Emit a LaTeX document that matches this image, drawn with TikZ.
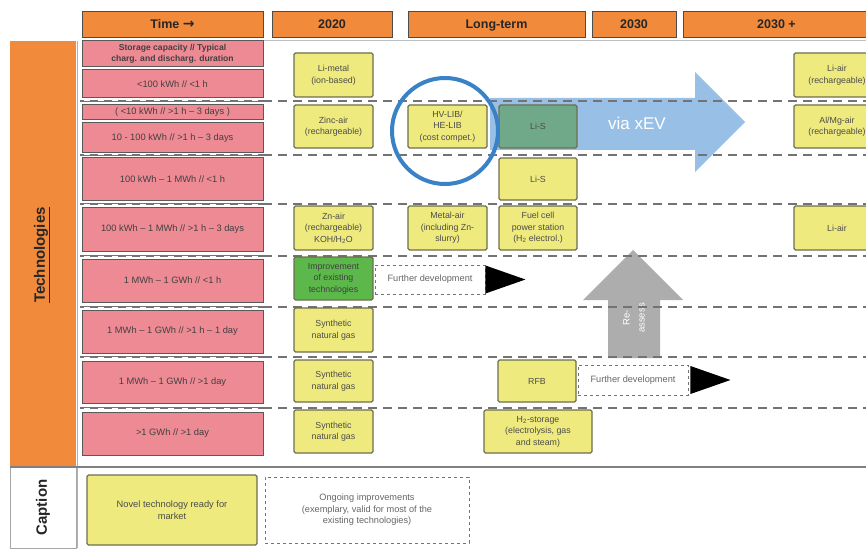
\documentclass[tikz,border=0pt]{standalone}
\usepackage{fontspec}
\setmainfont{Liberation Sans}
\newfontfamily\arrowfont{DejaVu Sans}
\definecolor{orangehead}{HTML}{F28A3C}
\definecolor{pinkrow}{HTML}{EE8A94}
\definecolor{yellowtech}{HTML}{EEEA7E}
\definecolor{greentech}{HTML}{5CB84A}
\definecolor{tealtech}{HTML}{6FA98A}
\definecolor{boxedge}{HTML}{6E6E50}
\definecolor{xevblue}{HTML}{98C0E6}
\definecolor{ringblue}{HTML}{3A82C8}

\begin{document}
\begin{tikzpicture}[x=1pt,y=1pt]
    \tikzstyle{every node}+=[inner sep=0pt]
    \tikzstyle{headbox}=[draw=black!70, fill=orangehead, line width=1pt, minimum height=26pt, text height=9.5pt, text depth=2.5pt, font=\fontsize{12.5}{14}\selectfont\bfseries, text=black!85]
    \tikzstyle{rowbox}=[draw=black!65, fill=pinkrow, line width=1pt, minimum width=181pt, align=center, font=\fontsize{9.3}{11}\selectfont, text=black!75]
    \tikzstyle{techbox}=[draw=boxedge, fill=yellowtech, line width=1.2pt, rounded corners=1.5pt, align=center, font=\fontsize{8.8}{11.5}\selectfont, text=black!70]
    \tikzstyle{devbox}=[draw=black!55, dashed, fill=white, line width=0.9pt, align=center, font=\fontsize{9.2}{11.5}\selectfont, text=black!60]
    \tikzstyle{sepline}=[draw=black!55, line width=1.5pt, dash pattern=on 9pt off 6pt]
    \clip (0,0) rectangle (866,-548);
    \fill [white] (0,0) rectangle (866,-548);
    % left bar and caption bar
    \node [fill=orangehead, minimum width=66pt, minimum height=426pt] (techbar) at (43,-254) {};
    \node [rotate=90, font=\fontsize{15}{16}\selectfont\bfseries, text=black!85] (techlabel) at (42,-255) {\underline{Technologies}};
    \node [draw=black!35, line width=1pt, minimum width=66pt, minimum height=81pt] (capbar) at (43,-507.5) {};
    \node [rotate=90, font=\fontsize{15}{16}\selectfont\bfseries, text=black!85] (caplabel) at (capbar) {Caption};
    \draw [black!30, line width=1pt] (77,-41) -- (77,-548);
    \draw [black!25, line width=1pt] (263,-41) -- (866,-41);
    \draw [black!50, line width=1.5pt] (10,-467) -- (866,-467);
    % big arrows
    \fill [xevblue] (490,-98) -- (695,-98) -- (695,-72) -- (745,-122) -- (695,-172) -- (695,-150) -- (490,-150) -- cycle;
    \node [text=white, font=\fontsize{17}{18}\selectfont] (xev) at (637,-123) {via xEV};
    \fill [black!32] (608,-358) -- (608,-300) -- (583,-300) -- (633,-250) -- (683,-300) -- (660,-300) -- (660,-358) -- cycle;
    \node [rotate=90, align=center, text=white, font=\fontsize{9.5}{15}\selectfont] (reassess) at (634,-318) {Re-\\assess};
    % row separators
    \foreach \y in {101,155,204,256,307,357,408} {
        \draw [sepline] (263,-\y) -- (866,-\y);
        \draw [black!55, line width=2.5pt] (80,-\y) -- (265,-\y);
        \draw [white, line width=1pt, dash pattern=on 6pt off 8pt] (84,-\y) -- (263,-\y);
    }
    % header
    \node [headbox, minimum width=181pt] (hdtime) at (172.5,-25) {Time {\arrowfont\bfseries\fontsize{14}{14}\selectfont →}};
    \node [headbox, minimum width=120pt] (hd2020) at (332,-25) {2020};
    \node [headbox, minimum width=177pt] (hdlong) at (496.5,-25) {Long-term};
    \node [headbox, minimum width=84pt] (hd2030) at (634,-25) {2030};
    \node [headbox, minimum width=187pt] (hd2030p) at (776.5,-25) {2030 +};
    % storage rows
    \node [rowbox, minimum height=26pt, font=\fontsize{8.6}{10.5}\selectfont\bfseries] (rowhead) at (172.5,-54) {Storage capacity // Typical\\charg. and discharg. duration};
    \node [rowbox, minimum height=28pt] (row1) at (172.5,-84) {<100 kWh // <1 h};
    \node [rowbox, minimum height=15pt] (row2a) at (172.5,-112.5) {( <10 kWh // >1 h – 3 days )};
    \node [rowbox, minimum height=30pt] (row2b) at (172.5,-138) {10 - 100 kWh // >1 h – 3 days};
    \node [rowbox, minimum height=42pt] (row3) at (172.5,-179) {100 kWh – 1 MWh // <1 h};
    \node [rowbox, minimum height=44pt] (row4) at (172.5,-229) {100 kWh – 1 MWh // >1 h – 3 days};
    \node [rowbox, minimum height=43pt] (row5) at (172.5,-280.5) {1 MWh – 1 GWh // <1 h};
    \node [rowbox, minimum height=43pt] (row6) at (172.5,-331.5) {1 MWh – 1 GWh // >1 h – 1 day};
    \node [rowbox, minimum height=42pt] (row7) at (172.5,-382) {1 MWh – 1 GWh // >1 day};
    \node [rowbox, minimum height=43pt] (row8) at (172.5,-433.5) {>1 GWh // >1 day};
    % 2020
    \node [techbox, minimum width=79pt, minimum height=44pt] (limetal) at (333.5,-75) {Li-metal\\(ion-based)};
    \node [techbox, minimum width=79pt, minimum height=43pt] (zincair) at (333.5,-126.5) {Zinc-air\\(rechargeable)};
    \node [techbox, minimum width=79pt, minimum height=44pt] (znair) at (333.5,-228) {Zn-air\\(rechargeable)\\KOH/H\textsubscript{2}O};
    \node [techbox, fill=greentech, text=black!75, minimum width=79pt, minimum height=43pt] (improve) at (333.5,-278.5) {Improvement\\of existing\\technologies};
    \node [techbox, minimum width=79pt, minimum height=44pt] (sng1) at (333.5,-330) {Synthetic\\natural gas};
    \node [techbox, minimum width=79pt, minimum height=42pt] (sng2) at (333.5,-381) {Synthetic\\natural gas};
    \node [techbox, minimum width=79pt, minimum height=43pt] (sng3) at (333.5,-431.5) {Synthetic\\natural gas};
    % long-term
    \node [techbox, minimum width=79pt, minimum height=43pt] (hvlib) at (447.5,-126.5) {HV-LIB/\\HE-LIB\\(cost compet.)};
    \node [techbox, minimum width=79pt, minimum height=44pt] (metalair) at (447.5,-228) {Metal-air\\(including Zn-\\slurry)};
    \node [techbox, fill=tealtech, minimum width=78pt, minimum height=43pt] (lisa) at (538,-126.5) {Li-S};
    \node [techbox, minimum width=78pt, minimum height=42pt] (lisb) at (538,-179) {Li-S};
    \node [techbox, minimum width=78pt, minimum height=44pt] (fuelcell) at (538,-228) {Fuel cell\\power station\\(H\textsubscript{2} electrol.)};
    \node [techbox, minimum width=78pt, minimum height=42pt] (rfb) at (537,-381) {RFB};
    \node [techbox, minimum width=108pt, minimum height=43pt] (htwo) at (538,-431.5) {H\textsubscript{2}-storage\\(electrolysis, gas\\and steam)};
    % 2030 +
    \node [techbox, minimum width=86pt, minimum height=44pt] (liair1) at (837,-75) {Li-air\\(rechargeable)};
    \node [techbox, minimum width=86pt, minimum height=43pt] (almgair) at (837,-126.5) {Al/Mg-air\\(rechargeable)};
    \node [techbox, minimum width=86pt, minimum height=44pt] (liair2) at (837,-228) {Li-air};
    % further development
    \node [devbox, minimum width=110pt, minimum height=29pt] (dev1) at (430,-279.5) {Further development};
    \fill [black] (dev1.east) ++(0,14) -- ++(40,-14) -- ++(-40,-14) -- cycle;
    \node [devbox, minimum width=110pt, minimum height=30pt] (dev2) at (633,-380) {Further development};
    \fill [black] (dev2.east) ++(2,14) -- ++(40,-14) -- ++(-40,-14) -- cycle;
    % highlight ring
    \draw [ringblue, line width=4pt] (445,-131) circle (53);
    % caption
    \node [techbox, minimum width=170pt, minimum height=70pt, font=\fontsize{9.3}{11.5}\selectfont] (capnovel) at (172,-510) {Novel technology ready for\\market};
    \node [devbox, minimum width=204pt, minimum height=66pt] (capongoing) at (367,-510) {Ongoing improvements\\(exemplary, valid for most of the\\existing technologies)};
\end{tikzpicture}
\end{document}
